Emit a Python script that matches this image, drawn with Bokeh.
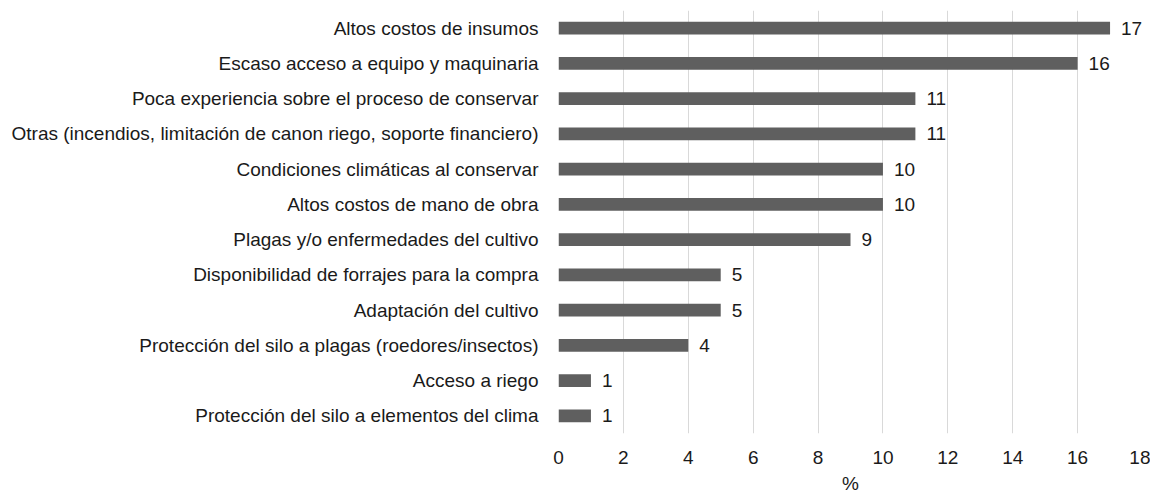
from bokeh.plotting import figure
from bokeh.models import ColumnDataSource, FactorRange, Range1d, FixedTicker
from bokeh.core.properties import value
from bokeh.embed import file_html
from bokeh.resources import INLINE

categories = [
    "Altos costos de insumos",
    "Escaso acceso a equipo y maquinaria",
    "Poca experiencia sobre el proceso de conservar",
    "Otras (incendios, limitación de canon riego, soporte financiero)",
    "Condiciones climáticas al conservar",
    "Altos costos de mano de obra",
    "Plagas y/o enfermedades del cultivo",
    "Disponibilidad de forrajes para la compra",
    "Adaptación del cultivo",
    "Protección del silo a plagas (roedores/insectos)",
    "Acceso a riego",
    "Protección del silo a elementos del clima",
]
values = [17, 16, 11, 11, 10, 10, 9, 5, 5, 4, 1, 1]
x_ticks = [0, 2, 4, 6, 8, 10, 12, 14, 16, 18]

FONT = "Liberation Sans"
TXT = "#1a1a1a"
FS = "19px"

src = ColumnDataSource(dict(cat=categories, val=values, lbl=[str(v) for v in values]))

p = figure(
    width=1150, height=496,
    y_range=FactorRange(*list(reversed(categories)), range_padding=0),
    x_range=Range1d(0, 18),
    output_backend="svg", toolbar_location=None,
    min_border_left=558, min_border_right=8, min_border_top=10, min_border_bottom=61,
)
p.outline_line_color = None
p.background_fill_color = "white"
p.border_fill_color = "white"

p.hbar(y="cat", right="val", left=0, height=0.36, source=src,
       fill_color="#5f5f5f", line_color=None)

p.text(x="val", y="cat", text="lbl", source=src, x_offset=11,
       text_align="left", text_baseline="middle",
       text_font=value(FONT), text_font_size=FS, text_color=TXT)

p.xaxis.ticker = FixedTicker(ticks=x_ticks)
p.xaxis.axis_label = "%"
p.xaxis.axis_label_text_font = FONT
p.xaxis.axis_label_text_font_style = "normal"
p.xaxis.axis_label_text_font_size = FS
p.xaxis.axis_label_text_color = TXT
p.xaxis.axis_label_standoff = 6
p.xaxis.major_label_text_font = FONT
p.xaxis.major_label_text_font_size = FS
p.xaxis.major_label_text_color = TXT
p.xaxis.major_label_standoff = 11
p.xaxis.axis_line_color = None
p.xaxis.major_tick_line_color = None
p.xaxis.minor_tick_line_color = None

p.yaxis.major_label_text_font = FONT
p.yaxis.major_label_text_font_size = FS
p.yaxis.major_label_text_color = TXT
p.yaxis.major_label_standoff = 14
p.yaxis.axis_line_color = None
p.yaxis.major_tick_line_color = None
p.yaxis.minor_tick_line_color = None

p.xgrid.grid_line_color = "#d9d9d9"
p.xgrid.grid_line_width = 1
p.ygrid.grid_line_color = None

open("out.html", "w").write(file_html(p, INLINE))
